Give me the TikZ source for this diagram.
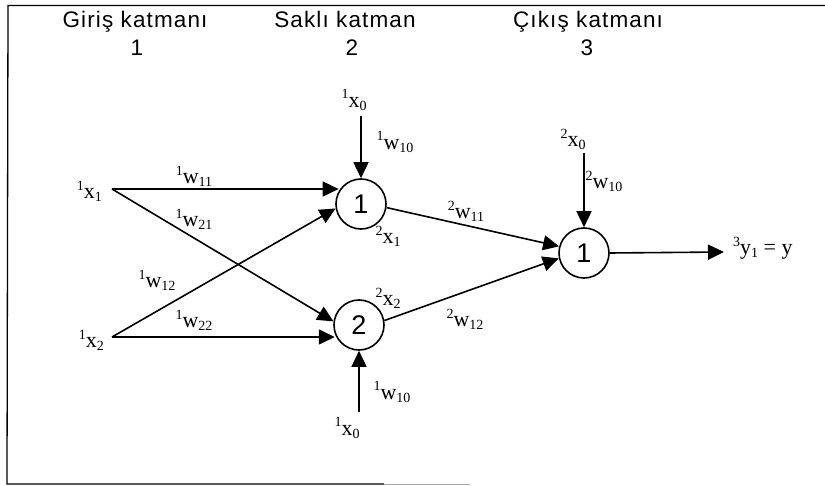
\documentclass[tikz,border=0pt]{standalone}
\usepackage{fontspec}
\setmainfont{Liberation Serif}
\newfontfamily\headfont[LetterSpace=5]{Liberation Sans}
\newfontfamily\numfont{Liberation Sans}
\usetikzlibrary{arrows.meta}

% layer-indexed symbol: superscript layer, letter, subscript index
\newcommand\scr{\fontsize{14}{14}\selectfont}
\newcommand\lbl[3]{\raisebox{0.8ex}{\scr #1}#2\raisebox{-0.3ex}{\scr #3}}

\tikzset{
  lab/.style={font=\fontsize{22}{22}\selectfont, inner sep=0pt},
  neuron/.style={circle, draw, line width=1.6pt, minimum size=50pt, inner sep=0pt,
                 font=\numfont\fontsize{27}{27}\selectfont},
  conn/.style={line width=1.6pt, -{Triangle[length=16pt,width=15pt]}},
  title/.style={font=\headfont\fontsize{22.5}{22.5}\selectfont, anchor=base, inner sep=0pt}
}

\begin{document}
\begin{tikzpicture}[x=1pt,y=-1pt]
\useasboundingbox (0,0) rectangle (825,486);

% frame
\draw[line width=1.3pt] (825,5.5) -- (8,5.5) -- (7,484) -- (384,484);
\draw[line width=0.8pt, black!35] (384,484) -- (470,484);

% layer titles
\node[title] (t1)  at (135,28) {Giriş katmanı};
\node[title] (t1n) at (137,56) {1};
\node[title] (t2)  at (345,28) {Saklı katman};
\node[title] (t2n) at (352,56) {2};
\node[title] (t3)  at (588,28) {Çıkış katmanı};
\node[title] (t3n) at (587,56) {3};

% neurons
\node[neuron] (h1) at (361,204) {1};
\node[neuron] (h2) at (359,325) {2};
\node[neuron] (o1) at (584,253) {1};

% free ends
\coordinate (i1) at (112,189);
\coordinate (i2) at (112,337);
\coordinate (b1) at (361,116);
\coordinate (b2) at (359,412);
\coordinate (b3) at (584,153);
\coordinate (out) at (724,252);

% connections
\draw[conn] (i1) -- (i1 -| h1.150);
\draw[conn] (i1) -- (h2.172);
\draw[conn] (i2) -- (h1.190);
\draw[conn] (i2) -- (i2 -| h2.200);
\draw[conn] (b1) -- (h1.north);
\draw[conn] (b2) -- (h2.south);
\draw[conn] (h1.-8) -- (o1.165);
\draw[conn] (h2.10) -- (o1.192);
\draw[conn] (b3) -- (o1.north);
\draw[conn] (o1.east) -- (out);

% labels
\node[lab, anchor=east] (x1) at (102,191) {\lbl{1}{x}{1}};
\node[lab, anchor=east] (x2) at (104,340) {\lbl{1}{x}{2}};
\node[lab] (w11) at (194,176) {\lbl{1}{w}{11}};
\node[lab] (w21) at (194,219) {\lbl{1}{w}{21}};
\node[lab] (w12) at (157,280) {\lbl{1}{w}{12}};
\node[lab] (w22) at (194,320) {\lbl{1}{w}{22}};
\node[lab] (x0a) at (354,100) {\lbl{1}{x}{0}};
\node[lab] (w10a) at (395,142) {\lbl{1}{w}{10}};
\node[lab] (hx1) at (388,236) {\lbl{2}{x}{1}};
\node[lab] (hx2) at (388,298) {\lbl{2}{x}{2}};
\node[lab] (v11) at (466,211) {\lbl{2}{w}{11}};
\node[lab] (v12) at (465,319) {\lbl{2}{w}{12}};
\node[lab] (w10b) at (392,392) {\lbl{1}{w}{10}};
\node[lab] (x0b) at (347,428) {\lbl{1}{x}{0}};
\node[lab] (x0c) at (573,139) {\lbl{2}{x}{0}};
\node[lab] (v10) at (604,181) {\lbl{2}{w}{10}};
\node[lab, anchor=west] (y) at (733,248) {\lbl{3}{y}{1} = y};
\end{tikzpicture}
\end{document}
